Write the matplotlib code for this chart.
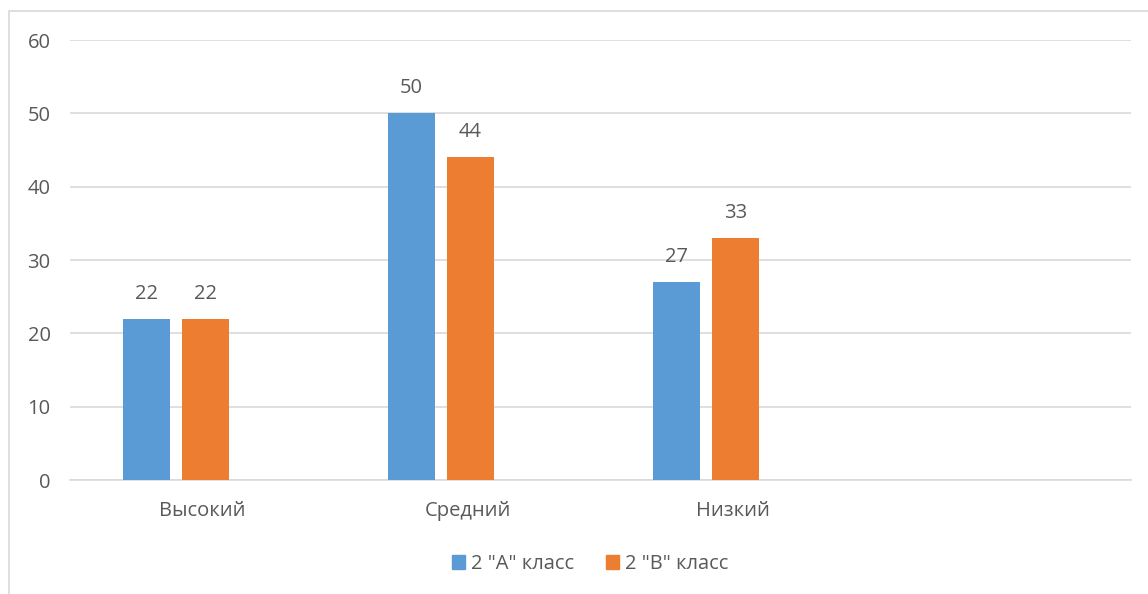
import matplotlib
matplotlib.use("Agg")
from matplotlib import pyplot as plt
from matplotlib.patches import Rectangle, Patch
import numpy as np

categories = ["Высокий", "Средний", "Низкий", ""]
class_a = [22, 50, 27]
class_b = [22, 44, 33]
series_names = ['2 "А" класс', '2 "В" класс']

BLUE = "#5B9BD5"
ORANGE = "#ED7D31"
TEXT = "#595959"
GRID = "#D9D9D9"
FS = 14.5

plt.rcParams["font.family"] = ["Open Sans", "DejaVu Sans"]

W, H = 1148, 594
fig = plt.figure(figsize=(W / 100, H / 100), dpi=100)
ax = fig.add_axes([70 / W, (H - 480) / H, 1061 / W, 440 / H])

# outer chart frame, cut off at right and bottom like the reference
fig.patches.append(Rectangle((9 / W, -0.1), 1.2, (H - 11) / H + 0.1,
                             transform=fig.transFigure, fill=False,
                             edgecolor=GRID, linewidth=1.2))

x = np.arange(len(class_a))
width = 0.177
offsets = [-0.213, 0.0094]

for vals, off, color in zip([class_a, class_b], offsets, [BLUE, ORANGE]):
    bars = ax.bar(x + off, vals, width=width, color=color, zorder=3)
    for rect, v in zip(bars, vals):
        ax.annotate(str(v), (rect.get_x() + rect.get_width() / 2, v),
                    xytext=(0, 18), textcoords="offset points",
                    ha="center", va="center", fontsize=FS, color=TEXT)

ax.set_xlim(-0.5, 3.5)
ax.set_ylim(0, 60)
ax.set_yticks(range(0, 61, 10))
ax.set_xticks(range(len(categories)))
ax.set_xticklabels(categories)
ax.grid(axis="y", color=GRID, linewidth=1.2, zorder=0)
for s in ["top", "right", "left"]:
    ax.spines[s].set_visible(False)
ax.spines["bottom"].set_color(GRID)
ax.spines["bottom"].set_linewidth(1.2)
ax.tick_params(axis="both", length=0, labelsize=FS, labelcolor=TEXT)
ax.tick_params(axis="y", pad=14)
ax.tick_params(axis="x", pad=15)

handles = [Patch(color=BLUE), Patch(color=ORANGE)]
fig.legend(handles, series_names, loc="center", bbox_to_anchor=(590 / W, (H - 564) / H),
           ncol=2, frameon=False, fontsize=FS, labelcolor=TEXT,
           handlelength=0.65, handleheight=0.65, handletextpad=0.3, columnspacing=1.6)

fig.savefig("out.png", dpi=100)
